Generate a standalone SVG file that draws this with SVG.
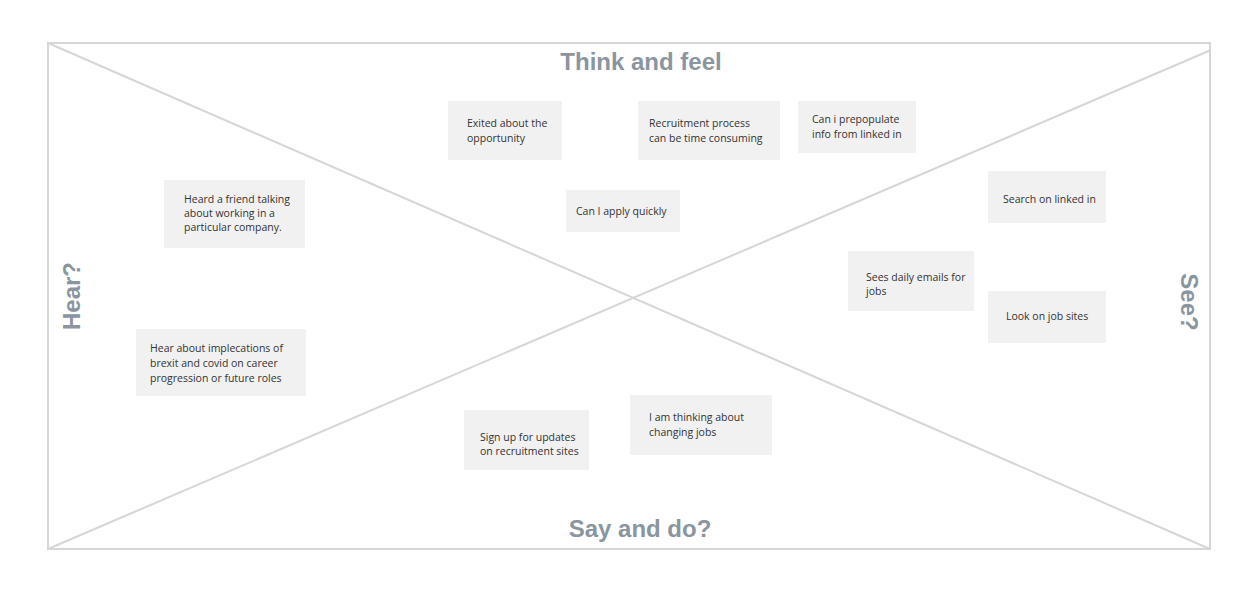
<svg xmlns="http://www.w3.org/2000/svg" width="1258" height="593" viewBox="0 0 1258 593">
<style>
.frame{fill:none;stroke:#d6d6d6;stroke-width:2}
.diag{stroke:#d6d6d6;stroke-width:2;fill:none}
.note rect{fill:#f1f1f1}
.note text{font-family:"Open Sans","Noto Sans",sans-serif;font-size:10.5px;fill:#333333}
.head{font-family:"Liberation Sans",Arial,sans-serif;font-weight:bold;font-size:24px;fill:#8a959f;text-anchor:middle}
</style>
<rect width="1258" height="593" fill="#ffffff"/>
<g id="frame">
<rect class="frame" x="48" y="43" width="1162" height="506"/>
</g>
<g id="connectors">
<line class="diag" x1="48" y1="43" x2="1210" y2="549"/>
<line class="diag" x1="48" y1="549" x2="1211" y2="50"/>
</g>
<g id="labels">
<text class="head" x="641" y="70">Think and feel</text>
<text class="head" x="640" y="537">Say and do?</text>
<text class="head" transform="translate(80,296) rotate(-90)">Hear?</text>
<text class="head" transform="translate(1181,302) rotate(90)">See?</text>
</g>
<g id="n1" class="note"><rect x="448" y="101" width="114" height="59"/><text x="467" y="127">Exited about the</text><text x="467" y="142">opportunity</text></g>
<g id="n2" class="note"><rect x="638" y="101" width="142" height="59"/><text x="649" y="127">Recruitment process</text><text x="649" y="142">can be time consuming</text></g>
<g id="n3" class="note"><rect x="798" y="101" width="118" height="52"/><text x="812" y="123">Can i prepopulate</text><text x="812" y="138">info from linked in</text></g>
<g id="n4" class="note"><rect x="566" y="190" width="114" height="42"/><text x="576" y="214.5">Can I apply quickly</text></g>
<g id="n5" class="note"><rect x="164" y="180" width="141" height="68"/><text x="184" y="203">Heard a friend talking</text><text x="184" y="217">about working in a</text><text x="184" y="231">particular company.</text></g>
<g id="n6" class="note"><rect x="136" y="329" width="170" height="67"/><text x="150" y="351.5">Hear about implecations of</text><text x="150" y="366.5">brexit and covid on career</text><text x="150" y="381.5">progression or future roles</text></g>
<g id="n7" class="note"><rect x="988" y="171" width="118" height="52"/><text x="1003" y="203">Search on linked in</text></g>
<g id="n8" class="note"><rect x="848" y="251" width="126" height="60"/><text x="866" y="280.5">Sees daily emails for</text><text x="866" y="294.5">jobs</text></g>
<g id="n9" class="note"><rect x="988" y="291" width="118" height="52"/><text x="1006" y="320">Look on job sites</text></g>
<g id="n10" class="note"><rect x="464" y="410" width="125" height="60"/><text x="480" y="440.5">Sign up for updates</text><text x="480" y="455">on recruitment sites</text></g>
<g id="n11" class="note"><rect x="630" y="395" width="142" height="60"/><text x="649" y="421">I am thinking about</text><text x="649" y="436">changing jobs</text></g>
</svg>
